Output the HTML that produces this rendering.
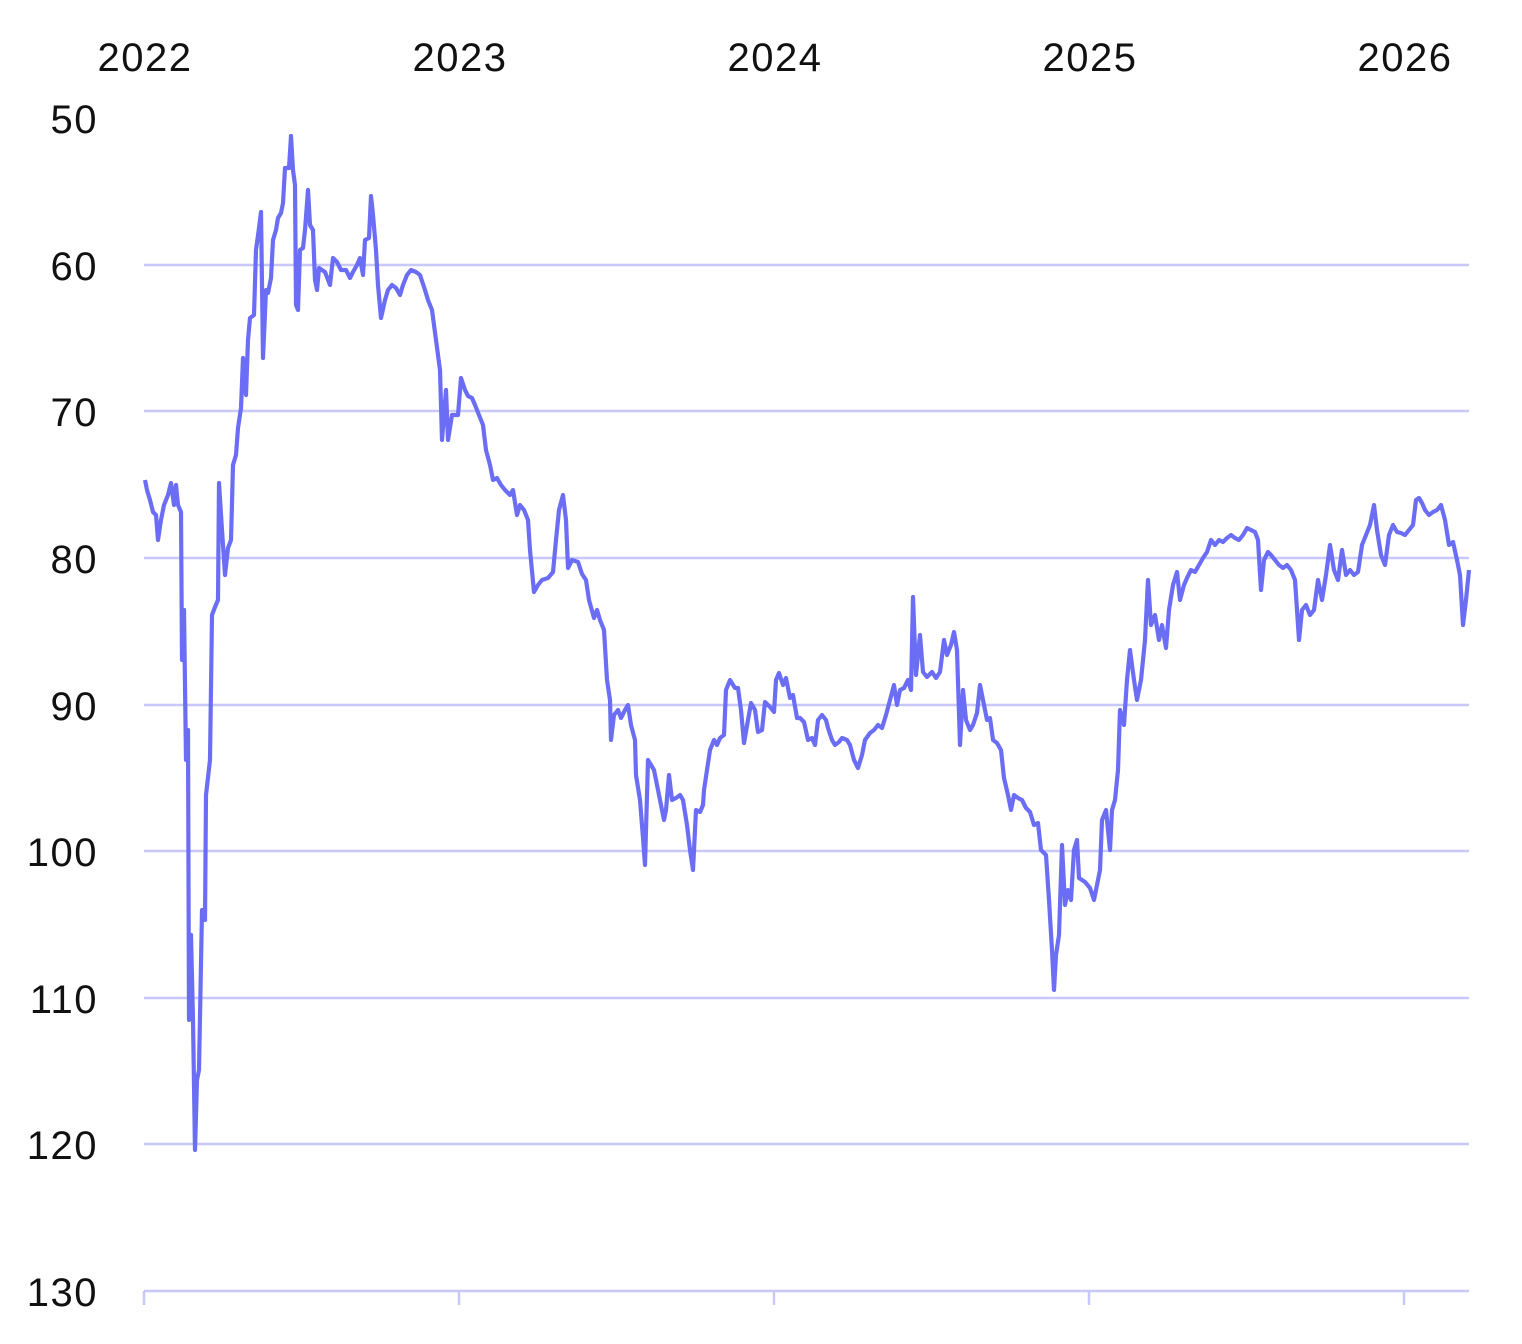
<!DOCTYPE html>
<html><head><meta charset="utf-8"><style>
html,body{margin:0;padding:0;background:#fff;}
svg{display:block;}
text{font-family:"Liberation Sans",sans-serif;font-size:40px;fill:#111;letter-spacing:1.5px;}
</style></head><body>
<svg width="1522" height="1344" viewBox="0 0 1522 1344">
<g stroke="#c8c8fb" stroke-width="2.5">
<line x1="144" y1="265" x2="1469" y2="265"/>
<line x1="144" y1="411" x2="1469" y2="411"/>
<line x1="144" y1="558" x2="1469" y2="558"/>
<line x1="144" y1="705" x2="1469" y2="705"/>
<line x1="144" y1="851" x2="1469" y2="851"/>
<line x1="144" y1="998" x2="1469" y2="998"/>
<line x1="144" y1="1144" x2="1469" y2="1144"/>
<line x1="144" y1="1291" x2="1469" y2="1291"/>
<line x1="144" y1="1291" x2="144" y2="1305"/>
<line x1="459" y1="1291" x2="459" y2="1305"/>
<line x1="774" y1="1291" x2="774" y2="1305"/>
<line x1="1089" y1="1291" x2="1089" y2="1305"/>
<line x1="1404" y1="1291" x2="1404" y2="1305"/>
</g>
<g text-anchor="end">
<text x="98" y="133">50</text>
<text x="98" y="280">60</text>
<text x="98" y="426">70</text>
<text x="98" y="573">80</text>
<text x="98" y="720">90</text>
<text x="98" y="866">100</text>
<text x="98" y="1013">110</text>
<text x="98" y="1159">120</text>
<text x="98" y="1306">130</text>
</g>
<g text-anchor="middle">
<text x="145" y="71">2022</text>
<text x="460" y="71">2023</text>
<text x="775" y="71">2024</text>
<text x="1090" y="71">2025</text>
<text x="1405" y="71">2026</text>
</g>
<polyline fill="none" stroke="#6b6ef5" stroke-width="4.2" stroke-linejoin="round" points="145,480 147,490 150,500 153,512 156,515 158,540 161,520 164,505 168,495 171,483 174,505 176,485 178,505 181,512 182,660 184,610 186,760 188,730 189,1020 191,935 193,1020 195,1150 197,1080 199,1070 202,910 205,920 206,795 210,760 212,615 215,607 218,600 219,483 222,530 225,575 228,548 231,540 233,465 236,455 238,428 241,408 243,358 246,395 248,340 250,318 254,315 256,250 259,228 261,212 263,358 266,290 268,293 271,278 273,240 276,230 278,218 281,213 283,203 285,168 289,168 291,136 293,170 295,185 296,305 298,310 300,250 303,248 305,230 308,190 310,225 313,230 315,280 317,290 319,268 325,272 330,285 333,258 337,262 341,270 346,270 350,278 353,272 357,265 360,258 363,275 365,240 369,238 371,196 373,215 376,250 378,285 381,318 385,300 388,290 392,285 396,288 400,295 403,285 407,275 411,270 416,272 420,275 425,290 428,300 432,310 436,340 440,370 442,440 446,390 448,440 452,415 458,415 461,378 465,390 468,396 472,398 475,405 479,415 483,425 486,450 490,465 493,480 497,478 501,485 505,490 510,495 513,490 517,515 520,505 524,510 528,520 530,550 534,592 538,585 542,580 548,578 553,572 556,540 559,510 563,495 566,520 568,568 572,560 578,562 582,574 586,580 589,600 594,618 597,610 600,620 604,630 607,680 610,700 611,740 614,715 618,710 621,718 625,710 628,705 631,725 635,740 636,775 640,800 643,838 645,865 648,760 651,765 654,770 657,785 660,800 664,820 666,810 669,775 672,800 676,798 680,795 683,800 687,825 690,850 693,870 696,810 700,812 703,805 704,790 707,770 710,750 714,740 717,745 720,738 724,735 726,690 730,680 735,688 738,688 741,710 744,743 748,720 751,703 755,710 758,732 762,730 765,702 770,707 774,712 776,680 779,673 783,685 786,678 790,698 793,695 797,718 800,718 804,722 808,740 812,738 815,745 818,720 822,715 826,720 828,728 832,740 835,745 839,742 842,738 847,740 850,745 854,760 858,768 862,755 865,740 870,733 874,730 878,725 882,728 886,715 890,700 894,685 897,705 900,690 904,688 908,680 911,690 913,597 916,675 920,635 923,672 927,677 932,672 936,678 940,672 944,640 947,655 951,645 954,632 957,650 960,745 963,690 966,720 970,730 973,725 977,713 980,685 984,705 987,720 990,718 993,740 997,743 1001,750 1004,778 1008,795 1011,810 1014,795 1018,798 1022,800 1026,808 1030,812 1034,825 1038,823 1041,850 1046,855 1049,900 1052,950 1054,990 1056,955 1059,935 1062,845 1065,905 1068,890 1071,900 1074,850 1077,840 1079,878 1085,882 1090,888 1094,900 1097,885 1100,870 1102,820 1106,810 1110,850 1112,810 1115,800 1118,770 1120,710 1124,725 1127,680 1130,650 1134,680 1137,700 1141,680 1145,640 1148,580 1151,625 1155,615 1159,640 1162,625 1166,648 1169,610 1173,585 1177,572 1180,600 1184,585 1187,578 1191,570 1195,572 1199,565 1203,558 1207,552 1211,540 1215,545 1219,540 1223,542 1227,538 1231,535 1235,538 1239,540 1243,535 1247,528 1251,530 1255,532 1258,540 1261,590 1264,560 1268,552 1271,555 1275,560 1279,565 1283,568 1287,565 1291,570 1295,580 1299,640 1302,610 1306,605 1310,615 1314,610 1318,580 1322,600 1326,575 1330,545 1334,570 1338,580 1342,550 1346,575 1350,570 1354,575 1358,572 1362,545 1366,535 1370,525 1374,505 1377,530 1381,555 1385,565 1389,535 1393,525 1397,532 1401,533 1405,535 1409,530 1413,525 1416,500 1419,498 1422,503 1425,510 1429,515 1433,512 1437,510 1441,505 1445,520 1449,545 1453,542 1457,560 1460,575 1463,625 1466,600 1469,570"/>
</svg>
</body></html>
